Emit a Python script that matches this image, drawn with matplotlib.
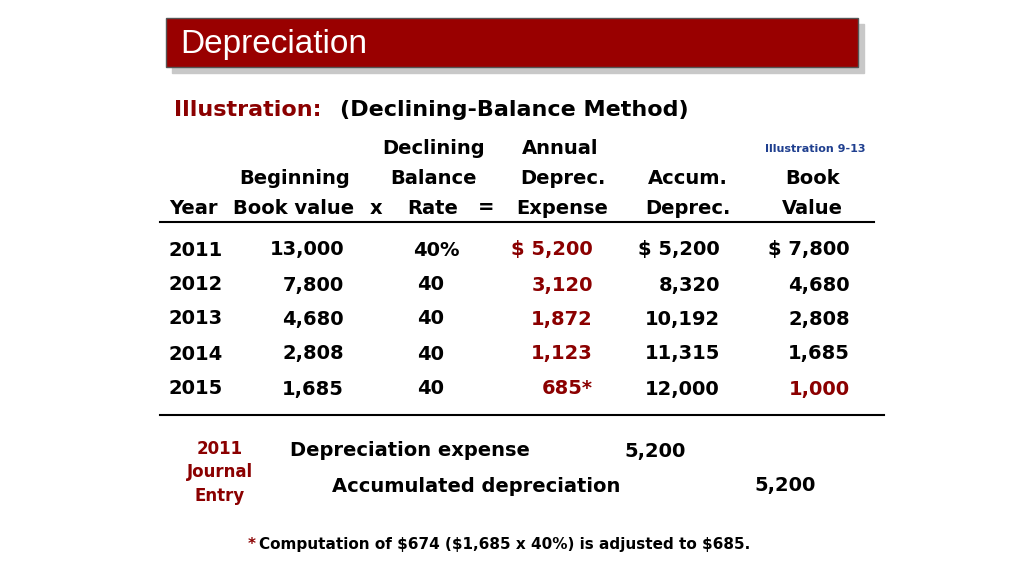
import matplotlib
matplotlib.use("Agg")
import matplotlib.pyplot as plt
from matplotlib.patches import Rectangle

years = ["2011", "2012", "2013", "2014", "2015"]
beginning = ["13,000", "7,800", "4,680", "2,808", "1,685"]
rates = ["40%", "40", "40", "40", "40"]
annual = ["$ 5,200", "3,120", "1,872", "1,123", "685*"]
accum = ["$ 5,200", "8,320", "10,192", "11,315", "12,000"]
book = ["$ 7,800", "4,680", "2,808", "1,685", "1,000"]

DARK_RED = "#8b0000"
FONT = "Liberation Sans Narrow"

fig = plt.figure(figsize=(10.24, 5.76), dpi=100)
ax = fig.add_axes([0, 0, 1, 1])
ax.set_xlim(0, 1024)
ax.set_ylim(576, 0)
ax.axis("off")


def txt(x, y, s, ha="left", color="black", size=14, **kw):
    ax.text(x, y, s, ha=ha, va="center", color=color, fontsize=size,
            fontweight="bold", family=FONT, **kw)


# title bar with shadow
ax.add_patch(Rectangle((172, 24), 692, 49, color="#c8c8c8", zorder=1))
ax.add_patch(Rectangle((166, 18), 692, 49, facecolor="#990000",
                       edgecolor="#555555", linewidth=1, zorder=2))
ax.text(180, 45, "Depreciation", color="white", fontsize=24, family="Liberation Sans",
        va="center", ha="left", zorder=3)

txt(174, 110, "Illustration:", color=DARK_RED, size=16)
txt(340, 110, "(Declining-Balance Method)", size=16)

txt(434, 148, "Declining", ha="center")
txt(560, 148, "Annual", ha="center")
txt(815, 149, "Illustration 9-13", ha="center", color="#1f3f8f", size=8)
for x, s in [(295, "Beginning"), (433, "Balance"), (563, "Deprec."),
             (688, "Accum."), (813, "Book")]:
    txt(x, 178, s, ha="center")
for x, s in [(193, "Year"), (294, "Book value"), (376, "x"), (433, "Rate"),
             (486, "="), (562, "Expense"), (688, "Deprec."), (812, "Value")]:
    txt(x, 208, s, ha="center")

ax.plot([160, 874], [222, 222], color="black", lw=1.5)
ax.plot([160, 884], [415, 415], color="black", lw=1.5)

row_y = [250, 285, 319, 354, 389]
for i, y in enumerate(row_y):
    txt(168, y, years[i])
    txt(344, y, beginning[i], ha="right")
    txt(460 if i == 0 else 444, y, rates[i], ha="right")
    txt(593, y, annual[i], ha="right", color=DARK_RED)
    txt(720, y, accum[i], ha="right")
    txt(850, y, book[i], ha="right", color=DARK_RED if i == 4 else "black")

for y, s in [(449, "2011"), (472, "Journal"), (496, "Entry")]:
    txt(220, y, s, ha="center", color=DARK_RED, size=12)
txt(290, 451, "Depreciation expense")
txt(655, 451, "5,200", ha="center")
txt(332, 486, "Accumulated depreciation")
txt(785, 486, "5,200", ha="center")

txt(248, 545, "*", color=DARK_RED, size=11)
txt(259, 545, "Computation of $674 ($1,685 x 40%) is adjusted to $685.", size=11)

fig.savefig("out.png", dpi=100)
